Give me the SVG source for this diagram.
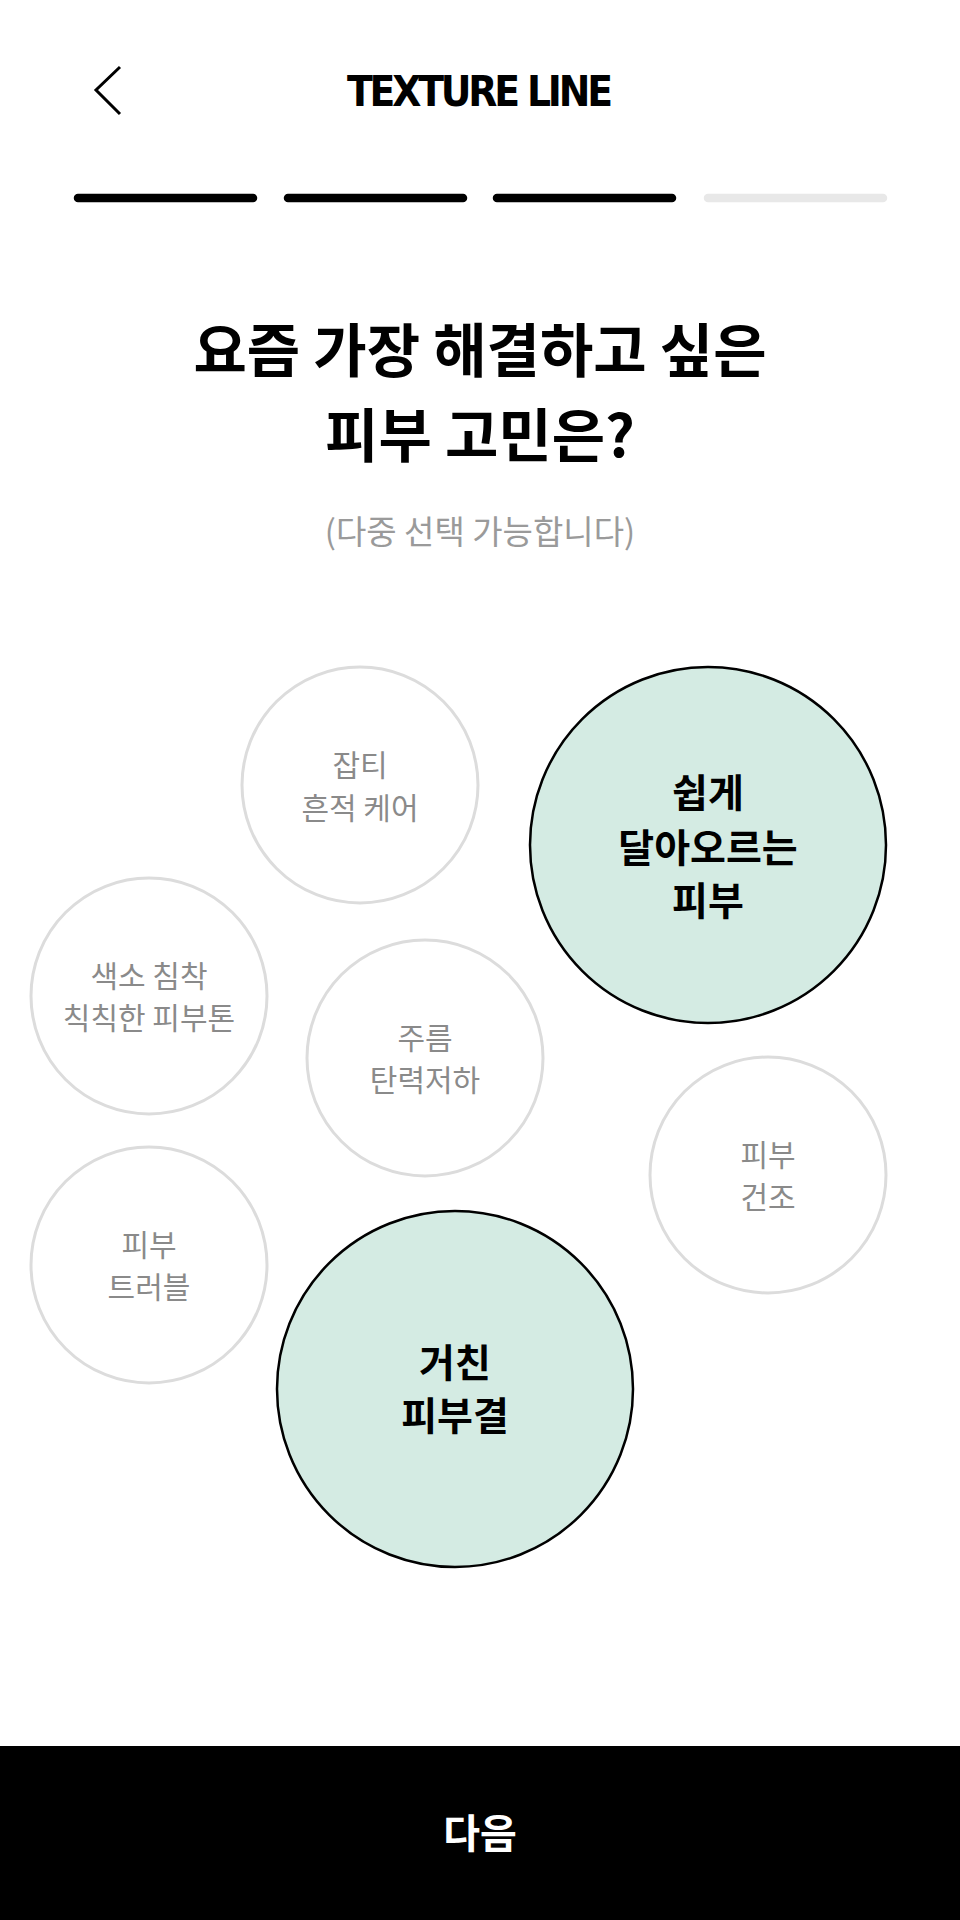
<svg xmlns="http://www.w3.org/2000/svg" width="960" height="1920" viewBox="0 0 960 1920">
<style>
text{font-family:"Noto Sans CJK KR","Noto Sans",sans-serif;text-anchor:middle;dominant-baseline:central}
.off{fill:#fff;stroke:#dcdcdc;stroke-width:3}
.on{fill:#d4ebe3;stroke:#000;stroke-width:2.5}
.lo{font-size:30px;fill:#8a8a8a}
.lb{font-size:39px;font-weight:700;fill:#000}
.bar{stroke-width:8.5;stroke-linecap:round}
</style>
<rect width="960" height="1920" fill="#fff"/>
<g id="header">
<polyline points="120,67 96,90 120,114" fill="none" stroke="#000" stroke-width="3"/>
<text x="480" y="91" style="font-family:'DejaVu Sans Condensed','DejaVu Sans',sans-serif;font-size:42px;font-weight:700" textLength="266">TEXTURE LINE</text>
</g>
<g id="progress">
<line class="bar" x1="78" y1="198" x2="253" y2="198" stroke="#000"/>
<line class="bar" x1="288" y1="198" x2="463" y2="198" stroke="#000"/>
<line class="bar" x1="497" y1="198" x2="672" y2="198" stroke="#000"/>
<line class="bar" x1="708" y1="198" x2="883" y2="198" stroke="#e8e8e8"/>
</g>
<g id="question">
<text x="480" y="347" style="font-size:58px;font-weight:700">요즘 가장 해결하고 싶은</text>
<text x="480" y="432" style="font-size:58px;font-weight:700">피부 고민은?</text>
<text x="480" y="530" style="font-size:33px;fill:#9a9a9a">(다중 선택 가능합니다)</text>
</g>
<g id="n1"><circle class="off" cx="360" cy="785" r="118"/><text class="lo" x="360" y="763">잡티</text><text class="lo" x="360" y="806">흔적 케어</text></g>
<g id="n2"><circle class="on" cx="708" cy="845" r="178"/><text class="lb" x="708" y="790">쉽게</text><text class="lb" x="708" y="845">달아오르는</text><text class="lb" x="708" y="898">피부</text></g>
<g id="n3"><circle class="off" cx="149" cy="996" r="118"/><text class="lo" x="149" y="974">색소 침착</text><text class="lo" x="149" y="1016">칙칙한 피부톤</text></g>
<g id="n4"><circle class="off" cx="425" cy="1058" r="118"/><text class="lo" x="425" y="1036">주름</text><text class="lo" x="425" y="1078">탄력저하</text></g>
<g id="n5"><circle class="off" cx="768" cy="1175" r="118"/><text class="lo" x="768" y="1153">피부</text><text class="lo" x="768" y="1195">건조</text></g>
<g id="n6"><circle class="off" cx="149" cy="1265" r="118"/><text class="lo" x="149" y="1243">피부</text><text class="lo" x="149" y="1285">트러블</text></g>
<g id="n7"><circle class="on" cx="455" cy="1389" r="178"/><text class="lb" x="455" y="1360">거친</text><text class="lb" x="455" y="1413">피부결</text></g>
<g id="connectors"/>
<g id="next"><rect x="0" y="1746" width="960" height="174" fill="#000"/><text x="480" y="1831" style="font-size:40px;font-weight:700;fill:#fff">다음</text></g>
</svg>
